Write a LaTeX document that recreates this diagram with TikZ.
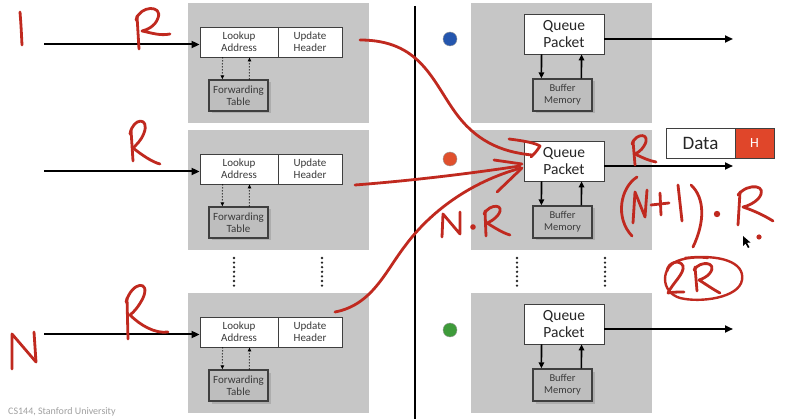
\documentclass[tikz,border=0pt]{standalone}
\usepackage{fontspec}
\setmainfont{Carlito}
\usetikzlibrary{arrows.meta,shadows,calc}
\definecolor{panelgray}{HTML}{C6C6C6}
\definecolor{boxgray}{HTML}{BEBEBE}
\definecolor{edgegray}{HTML}{3F3F3F}
\definecolor{txtgray}{HTML}{3A3A3A}
\definecolor{inkred}{HTML}{C0291F}
\definecolor{hred}{HTML}{E0462A}
\definecolor{dotblue}{HTML}{2456AE}
\definecolor{dotred}{HTML}{E0502D}
\definecolor{dotgreen}{HTML}{3E9B3A}
\definecolor{footgray}{HTML}{A0A0A0}
\begin{document}
\begin{tikzpicture}[x=1pt,y=-1pt,
  panel/.style={fill=panelgray,draw=none,minimum width=181pt,minimum height=120pt,inner sep=0pt,anchor=north west},
  wbox/.style={draw=edgegray,line width=0.9pt,fill=white,inner sep=0pt,align=center,text=txtgray},
  lbox/.style={wbox,minimum height=30pt,font=\fontsize{11}{12}\selectfont},
  qbox/.style={wbox,minimum width=80pt,minimum height=40pt,text=black!85,font=\fontsize{15.5}{16.5}\selectfont},
  gbox/.style={draw=edgegray,line width=1.3pt,fill=boxgray,inner sep=0pt,align=center,text=txtgray,
    drop shadow={shadow xshift=2.5pt,shadow yshift=-2.5pt,opacity=0.35}},
  ftbox/.style={gbox,minimum width=59pt,minimum height=31pt,font=\fontsize{11}{12}\selectfont},
  bmbox/.style={gbox,minimum width=59pt,minimum height=32pt,font=\fontsize{10.5}{12}\selectfont},
  bigarrow/.style={line width=2pt,-{Triangle[length=8pt,width=7pt]}},
  midarrow/.style={line width=1.6pt,-{Triangle[length=6pt,width=5.5pt]}},
  dotarrow/.style={line width=1pt,dotted,-{Triangle[length=4pt,width=3.5pt]}},
  vdots/.style={line width=2.6pt,line cap=round,dash pattern=on 0pt off 4.6pt,black!85},
  ink/.style={draw=inkred,line width=2.8pt,line cap=round,line join=round},
  inkdot/.style={fill=inkred,draw=none},
  portdot/.style={circle,minimum size=14pt,inner sep=0pt,draw=black!40,line width=0.4pt}
]
\useasboundingbox (0,0) rectangle (800,419);
\fill[white] (0,0) rectangle (800,419);

% ---------- left (input) side ----------
\foreach \i/\t in {1/3,2/130,3/293}{
  \node[panel] (lp\i) at (188,\t) {};
  \node[lbox,minimum width=78pt] (la\i) at (239,\t+39) {Lookup\\Address};
  \node[lbox,minimum width=64pt] (uh\i) at (310,\t+39) {Update\\Header};
  \node[ftbox] (ft\i) at (238.5,\t+92.5) {Forwarding\\Table};
  \draw[dotarrow] ([xshift=23pt]la\i.south west) -- ([xshift=14pt]ft\i.north west);
  \draw[dotarrow] ([xshift=41pt]ft\i.north west) -- ([xshift=50pt]la\i.south west);
  \coordinate (in\i) at (44,\t+41.5);
  \draw[bigarrow] (in\i) -- (in\i -| la\i.west);
}

% ---------- right (output) side ----------
\foreach \i/\t/\c/\d in {1/3/dotblue/39,2/130/dotred/159,3/293/dotgreen/330}{
  \node[panel] (rp\i) at (471,\t) {};
  \node[qbox] (qp\i) at (564,\t+31) {Queue\\Packet};
  \node[bmbox] (bm\i) at (562.5,\t+92) {Buffer\\Memory};
  \draw[midarrow] ([xshift=18pt]qp\i.south west) -- ([xshift=9pt]bm\i.north west);
  \draw[midarrow] ([xshift=49pt]bm\i.north west) -- ([xshift=58pt]qp\i.south west);
  \coordinate (out\i) at (733,\t+36);
  \draw[bigarrow] (out\i -| qp\i.east) -- (out\i);
  \node[portdot,fill=\c] (pd\i) at (450,\d) {};
}

% separator line
\coordinate (sepT) at (415,6);
\coordinate (sepB) at (415,419);
\draw[line width=2.6pt] (sepT) -- (sepB);

% vertical dots
\foreach \x/\n in {234/a,322/b,517/c,605/d}{
  \coordinate (vd\n t) at (\x,258);
  \coordinate (vd\n b) at (\x,288);
  \draw[vdots] (vd\n t) -- (vd\n b);
}

% Data / H packet
\node[draw=edgegray,line width=0.9pt,fill=white,minimum width=69pt,minimum height=30pt,inner sep=0pt,
  font=\fontsize{19}{21}\selectfont,text=black!85] (data) at (700.5,143) {Data};
\node[draw=edgegray,line width=0.9pt,fill=hred,minimum width=39pt,minimum height=30pt,inner sep=0pt,
  font=\fontsize{14}{16}\selectfont,text=white] (hdr) at (754.5,143) {H};

% footer
\node[anchor=base west,text=footgray,font=\fontsize{10}{12}\selectfont,inner sep=0pt] (foot) at (8,414) {CS144, Stanford University};

% ---------- handwriting ----------
% "1"
\draw[ink] (20,12) .. controls (21,25) .. (22,45);
% R (row 1)
\draw[ink] (139,49) -- (137,16);
\draw[ink] (136,20) .. controls (140,5) and (163,5) .. (158,18) .. controls (155,27) and (146,30) .. (142,31) .. controls (152,33) and (160,36) .. (170,34);
% R (row 2)
\draw[ink] (133,161) -- (131,130);
\draw[ink] (130,134) .. controls (133,117) and (150,117) .. (144,133) .. controls (141,141) and (136,145) .. (133,148) .. controls (142,155) and (152,162) .. (160,164);
% N (row 3)
\draw[ink] (12,369) -- (12,334) -- (36,362) -- (34,332);
% R (row 3)
\draw[ink] (128,339) -- (127,298);
\draw[ink] (126,302) .. controls (132,281) and (151,280) .. (143,298) .. controls (139,306) and (134,312) .. (130,315) .. controls (140,325) and (155,334) .. (168,332);

% red curves to the middle Queue Packet
\coordinate (c1s) at (360,40);
\coordinate (c2s) at (355,185);
\coordinate (c3s) at (335,312);
\draw[ink] (c1s) .. controls (420,40) and (432,80) .. (455,112) .. controls (475,140) and (500,152) .. (532,155);
\draw[ink] (509,139) .. controls (525,141) and (535,143) .. (540,146) .. controls (537,151) and (534,154) .. (531,157);
\draw[ink] (c2s) .. controls (420,180) and (480,172) .. (520,166);
\draw[ink] (494,160) -- (522,164);
\draw[ink] (c3s) .. controls (372,305) and (385,272) .. (405,246) .. controls (430,212) and (470,182) .. (521,168);
\draw[ink] (497,192) -- (522,168);

% N . R
\draw[ink] (442,237) -- (443,214) -- (460,234) -- (460,212);
\fill[inkdot] (473,227) circle (2.8);
\draw[ink] (486,236) -- (485,211);
\draw[ink] (484,214) .. controls (490,203) and (506,204) .. (498,215) .. controls (495,219) and (490,222) .. (487,223) .. controls (495,228) and (503,233) .. (510,235);

% R on output
\draw[ink] (635,165) -- (633,141);
\draw[ink] (632,144) .. controls (636,132) and (652,133) .. (644,146) .. controls (641,151) and (637,153) .. (635,154) .. controls (643,158) and (650,161) .. (656,162);

% (N+1) . R
\draw[ink] (637,177) .. controls (620,188) and (615,218) .. (632,236);
\draw[ink] (633,223) -- (635,192) -- (645,217) -- (647,190);
\draw[ink] (651,205) -- (669,203);
\draw[ink] (660,193) -- (661,215);
\draw[ink] (678,185) -- (682,221);
\draw[ink] (691,185) .. controls (705,198) and (705,222) .. (693,247);
\fill[inkdot] (717,214) circle (3.2);
\draw[ink] (738,225) -- (740,192);
\draw[ink] (738,195) .. controls (748,182) and (770,185) .. (758,199) .. controls (754,203) and (748,206) .. (743,207) .. controls (755,211) and (765,216) .. (773,221);
\fill[inkdot] (759,237) circle (2.6);

% mouse cursor
\fill[black] (743,236) -- (743,246) -- (745.5,243.5) -- (748,248) -- (749.5,247.2) -- (747,242.8) -- (750.5,242.5) -- cycle;

% 2R circled
\draw[ink] (667,271) .. controls (668,262) and (680,259) .. (683,266) .. controls (685,273) and (672,284) .. (668,293) .. controls (673,292) and (679,292) .. (684,292);
\draw[ink] (697,291) -- (695,267);
\draw[ink] (694,270) .. controls (700,260) and (718,262) .. (710,273) .. controls (707,277) and (702,279) .. (699,280) .. controls (707,285) and (714,290) .. (720,293);
\draw[ink,line width=2.4pt] (685,258) .. controls (720,254) and (745,262) .. (742,280) .. controls (739,298) and (700,303) .. (680,298) .. controls (660,292) and (660,266) .. (680,260) .. controls (690,257) and (700,257) .. (708,258);
\end{tikzpicture}
\end{document}
